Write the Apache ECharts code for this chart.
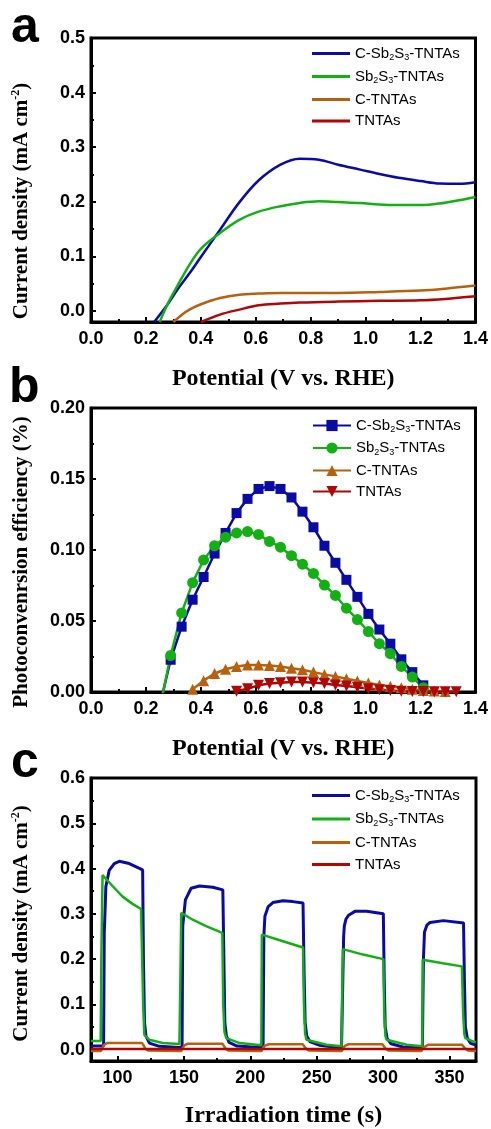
<!DOCTYPE html>
<html><head><meta charset="utf-8">
<script src="https://cdn.jsdelivr.net/npm/echarts@6/dist/echarts.min.js"></script>
<style>html,body{margin:0;padding:0;background:#fff}#chart{width:491px;height:1129px}</style>
</head><body><div id="chart"></div>
<script>
// ---------- names ----------
const seriesNames = ['C-Sb2S3-TNTAs', 'Sb2S3-TNTAs', 'C-TNTAs', 'TNTAs'];
const legendRich = {
  'C-Sb2S3-TNTAs': '{n|C-Sb}{b|2}{n|S}{b|3}{n|-TNTAs}',
  'Sb2S3-TNTAs': '{n|Sb}{b|2}{n|S}{b|3}{n|-TNTAs}',
  'C-TNTAs': '{n|C-TNTAs}',
  'TNTAs': '{n|TNTAs}'
};
const panelLetters = ['a', 'b', 'c'];

// ---------- panel a : J-V curves ----------
const aBlueX  = [0.23, 0.28, 0.32, 0.36, 0.40, 0.47, 0.54, 0.61, 0.69, 0.76, 0.83, 0.90, 0.98, 1.05, 1.12, 1.20, 1.27, 1.34, 1.40];
const aBlueY  = [-0.02, 0.013, 0.043, 0.070, 0.099, 0.149, 0.199, 0.239, 0.268, 0.279, 0.277, 0.268, 0.259, 0.251, 0.244, 0.238, 0.2335, 0.233, 0.236];
const aGreenX = [0.25, 0.28, 0.32, 0.36, 0.40, 0.47, 0.54, 0.61, 0.69, 0.76, 0.83, 0.90, 0.98, 1.05, 1.12, 1.20, 1.27, 1.34, 1.40];
const aGreenY = [-0.02, 0.014, 0.051, 0.086, 0.114, 0.143, 0.167, 0.182, 0.192, 0.198, 0.201, 0.1995, 0.198, 0.195, 0.194, 0.194, 0.197, 0.203, 0.209];
const aBrownX = [0.30, 0.33, 0.36, 0.40, 0.47, 0.54, 0.61, 0.69, 0.76, 0.90, 1.05, 1.20, 1.29, 1.40];
const aBrownY = [-0.02, -0.007, 0.003, 0.0125, 0.024, 0.030, 0.032, 0.033, 0.0333, 0.0333, 0.035, 0.0375, 0.041, 0.0467];
const aRedX   = [0.40, 0.47, 0.54, 0.61, 0.69, 0.76, 0.90, 1.05, 1.20, 1.29, 1.40];
const aRedY   = [-0.02, -0.0064, 0.0027, 0.0106, 0.0137, 0.0156, 0.0174, 0.0187, 0.0198, 0.0223, 0.0271];
const aXMajor = [0.0, 0.2, 0.4, 0.6, 0.8, 1.0, 1.2, 1.4];
const aXMinor = [0.1, 0.3, 0.5, 0.7, 0.9, 1.1, 1.3];
const aYMajor = [0.0, 0.1, 0.2, 0.3, 0.4, 0.5];
const aYMinor = [0.05, 0.15, 0.25, 0.35, 0.45];

// ---------- panel b : photoconversion efficiency ----------
const bBlueX  = [0.25, 0.29, 0.33, 0.37, 0.41, 0.45, 0.49, 0.53, 0.57, 0.61, 0.65, 0.69, 0.73, 0.77, 0.81, 0.85, 0.89, 0.93, 0.97, 1.01, 1.05, 1.09, 1.13, 1.17, 1.21, 1.25];
const bBlueY  = [-0.01, 0.0227, 0.046, 0.065, 0.081, 0.0975, 0.112, 0.126, 0.136, 0.143, 0.145, 0.143, 0.137, 0.127, 0.116, 0.103, 0.091, 0.079, 0.067, 0.055, 0.044, 0.034, 0.023, 0.014, 0.0047, -0.008];
const bGreenX = [0.25, 0.29, 0.33, 0.37, 0.41, 0.45, 0.49, 0.53, 0.57, 0.61, 0.65, 0.69, 0.73, 0.77, 0.81, 0.85, 0.89, 0.93, 0.97, 1.01, 1.05, 1.09, 1.13, 1.17, 1.21, 1.25];
const bGreenY = [-0.012, 0.0257, 0.0557, 0.077, 0.093, 0.103, 0.109, 0.112, 0.113, 0.111, 0.106, 0.102, 0.096, 0.090, 0.0835, 0.0753, 0.068, 0.059, 0.051, 0.0426, 0.034, 0.027, 0.018, 0.0105, 0.003, -0.006];
const bBrownX = [0.33, 0.37, 0.41, 0.45, 0.49, 0.53, 0.57, 0.61, 0.65, 0.69, 0.73, 0.77, 0.81, 0.85, 0.89, 0.93, 0.97, 1.01, 1.05, 1.09, 1.13, 1.17, 1.21, 1.25, 1.29];
const bBrownY = [-0.012, 0.002, 0.008, 0.013, 0.016, 0.018, 0.019, 0.019, 0.0187, 0.018, 0.0168, 0.0157, 0.014, 0.0124, 0.011, 0.0094, 0.0077, 0.0063, 0.0049, 0.004, 0.003, 0.002, 0.001, 0.0007, 0.0003];
const bRedX   = [0.49, 0.53, 0.57, 0.61, 0.65, 0.69, 0.73, 0.77, 0.81, 0.85, 0.89, 0.93, 0.97, 1.01, 1.05, 1.09, 1.13, 1.17, 1.21, 1.25, 1.29, 1.33];
const bRedY   = [-0.008, 0.0005, 0.0023, 0.0047, 0.006, 0.0065, 0.007, 0.007, 0.0066, 0.006, 0.005, 0.0042, 0.0033, 0.0023, 0.0016, 0.001, 0.0006, 0.0004, 0.0003, 0.0002, 0.0001, 0.0001];
const bXMajor = [0.0, 0.2, 0.4, 0.6, 0.8, 1.0, 1.2, 1.4];
const bXMinor = [0.1, 0.3, 0.5, 0.7, 0.9, 1.1, 1.3];
const bYMajor = [0.00, 0.05, 0.10, 0.15, 0.20];
const bYMinor = [0.025, 0.075, 0.125, 0.175];

// ---------- panel c : chopped-light transients ----------
const cBlueT = [80, 89.5, 90, 91.2, 93.7, 97.5, 101.3, 108.8, 118.9, 119.5, 120.3, 121.4, 124, 131.5, 146.6,
  148.6, 149.1, 151.1, 155.4, 161.7, 171.8, 179.3, 180.1, 180.8, 182, 184, 190, 207,
  209.6, 210.2, 211, 213.5, 217, 224.6, 232, 239.7, 240.5, 241.3, 242.5, 244.8, 252.3, 268.7,
  269.8, 270.3, 270.8, 272, 274, 278.8, 287.6, 300.2, 300.9, 301.6, 303, 306, 315, 329.6,
  330.4, 331.2, 333, 335.4, 345.5, 360.6, 361.3, 362, 363.5, 366, 370];
const cBlueV = [0.008, 0.008, 0.258, 0.36, 0.396, 0.411, 0.416, 0.411, 0.397, 0.2, 0.06, 0.03, 0.0146, 0.0074, 0.005,
  0.006, 0.273, 0.331, 0.3565, 0.3615, 0.3587, 0.353, 0.2, 0.06, 0.03, 0.016, 0.008, 0.005,
  0.006, 0.251, 0.2946, 0.316, 0.325, 0.329, 0.327, 0.324, 0.171, 0.06, 0.03, 0.018, 0.0096, 0.0037,
  0.005, 0.25, 0.273, 0.288, 0.297, 0.3055, 0.3055, 0.300, 0.15, 0.05, 0.025, 0.013, 0.006, 0.004,
  0.2, 0.26, 0.275, 0.281, 0.285, 0.280, 0.15, 0.05, 0.025, 0.014, 0.01];
const cGreenT = [80, 87.3, 87.8, 88.7, 96.2, 103.8, 111.3, 117.7, 118.6, 119.3, 120.2, 124, 134, 146.6,
  147.6, 148, 156.6, 166.7, 178.9, 179.6, 180.5, 181.9, 192, 208.3,
  208.7, 224, 239.7, 240.4, 241.3, 242.3, 257.4, 268.7,
  269.3, 269.7, 285, 300.2, 300.9, 301.8, 302.7, 317.8, 329.5,
  329.9, 345, 359.4, 360.3, 361.2, 362, 368, 370];
const cGreenV = [0.019, 0.019, 0.2, 0.3855, 0.3615, 0.338, 0.322, 0.3107, 0.31, 0.1, 0.0327, 0.0218, 0.0146, 0.0124,
  0.013, 0.302, 0.287, 0.273, 0.258, 0.1, 0.04, 0.0255, 0.0146, 0.0096,
  0.254, 0.240, 0.2256, 0.1, 0.035, 0.0218, 0.011, 0.0074,
  0.008, 0.222, 0.21, 0.200, 0.08, 0.03, 0.0218, 0.011, 0.0074,
  0.1986, 0.191, 0.184, 0.08, 0.035, 0.0255, 0.018, 0.016];
const cBrownT = [80, 87.5, 88.5, 90, 92, 118.5, 119.5, 121, 123, 148, 149, 150.5, 153, 179, 180, 181.5, 183.5,
  208.5, 209.5, 211, 214, 239.5, 240.5, 242, 244, 269, 270, 271.5, 274, 299.5, 300.5, 302, 304,
  329, 330, 331.5, 334, 359.5, 360.5, 362, 364, 370];
const cBrownV = [-0.003, -0.003, 0.004, 0.011, 0.0146, 0.0146, 0.010, 0.002, -0.002, -0.003, 0.004, 0.010, 0.0131, 0.0131, 0.009, 0.002, -0.002,
  -0.003, 0.004, 0.009, 0.012, 0.012, 0.008, 0.002, -0.002, -0.003, 0.004, 0.009, 0.012, 0.012, 0.008, 0.002, -0.002,
  -0.003, 0.004, 0.008, 0.011, 0.011, 0.007, 0.002, -0.002, -0.003];
const cRedT = [80, 370];
const cRedV = [0.0015, 0.0015];
const cXMajor = [100, 150, 200, 250, 300, 350];
const cXMinor = [125, 175, 225, 275, 325];
const cYMajor = [0.0, 0.1, 0.2, 0.3, 0.4, 0.5, 0.6];
const cYMinor = [0.05, 0.15, 0.25, 0.35, 0.45, 0.55];

// ---------- styling ----------
const colors = ['#0a0aa5', '#12b012', '#b8600e', '#b00606'];
const SANS = 'Liberation Sans';
const SERIF = 'Liberation Serif';
const zip = (xs, ys) => xs.map((x, i) => [x, ys[i]]);

const tickLabelStyle = { fontFamily: SANS, fontWeight: 'bold', fontSize: 18, color: '#000' };

function axisPair(dim, grid, min, max, major, minor, fmt, name, nameCfg) {
  const pos = dim === 'x' ? 'bottom' : 'left';
  const main = {
    type: 'value', gridIndex: grid, min: min, max: max, position: pos,
    axisLine: { show: true, onZero: false, lineStyle: { color: '#000', width: 3 } },
    axisTick: { show: true, inside: true, length: 5, lineStyle: { color: '#000', width: 2 }, customValues: major },
    axisLabel: Object.assign({ show: true, margin: dim === 'x' ? 8 : 6, customValues: major, formatter: fmt }, tickLabelStyle),
    splitLine: { show: false },
    name: name, nameLocation: 'middle'
  };
  Object.assign(main, nameCfg);
  const sub = {
    type: 'value', gridIndex: grid, min: min, max: max, position: pos,
    axisLine: { show: false, onZero: false },
    axisTick: { show: true, inside: true, length: 3, lineStyle: { color: '#000', width: 2 }, customValues: minor },
    axisLabel: { show: false },
    splitLine: { show: false }
  };
  return [main, sub];
}

const xNameStyle = { fontFamily: SERIF, fontWeight: 'bold', fontSize: 24, color: '#000' };
function yNameStyle(shift) {
  return {
    fontFamily: SERIF, fontWeight: 'bold', fontSize: 21, color: '#000',
    padding: [0, shift * 2, 0, 0],
    rich: {
      t: { fontFamily: SERIF, fontWeight: 'bold', fontSize: 21, lineHeight: 24, color: '#000' },
      s: { fontFamily: SERIF, fontWeight: 'bold', fontSize: 12, lineHeight: 5, verticalAlign: 'top', color: '#000' }
    }
  };
}

const f1 = v => v.toFixed(1);
const f2 = v => v.toFixed(2);
const f0 = v => String(Math.round(v));

const xAxes = [].concat(
  axisPair('x', 0, 0, 1.4, aXMajor, aXMinor, f1, 'Potential (V vs. RHE)', { nameGap: 45, nameTextStyle: xNameStyle }),
  axisPair('x', 1, 0, 1.4, bXMajor, bXMinor, f1, 'Potential (V vs. RHE)', { nameGap: 45, nameTextStyle: xNameStyle }),
  axisPair('x', 2, 80, 370, cXMajor, cXMinor, f0, 'Irradiation time (s)', { nameGap: 43, nameTextStyle: xNameStyle })
);
const yAxes = [].concat(
  axisPair('y', 0, -0.02, 0.5, aYMajor, aYMinor, f1, '{t|Current density (mA cm}{s|-2}{t|)}', { nameGap: 57, nameTextStyle: yNameStyle(21) }),
  axisPair('y', 1, 0, 0.2, bYMajor, bYMinor, f2, '{t|Photoconvenrsion efficiency (%)}', { nameGap: 57, nameTextStyle: yNameStyle(12) }),
  axisPair('y', 2, -0.025, 0.6, cYMajor, cYMinor, f1, '{t|Current density (mA cm}{s|-2}{t|)}', { nameGap: 57, nameTextStyle: yNameStyle(4) })
);

function lineSeries(panel, k, data, axisIdx, extra) {
  return Object.assign({
    name: panel + ':' + seriesNames[k],
    type: 'line', xAxisIndex: axisIdx, yAxisIndex: axisIdx,
    data: data, symbol: 'none', clip: true,
    color: colors[k],
    lineStyle: { color: colors[k], width: 2.5 },
    itemStyle: { color: colors[k] },
    emphasis: { disabled: true }
  }, extra || {});
}

const series = [
  lineSeries('a', 0, zip(aBlueX, aBlueY), 0, { smooth: 0.35 }),
  lineSeries('a', 1, zip(aGreenX, aGreenY), 0, { smooth: 0.35 }),
  lineSeries('a', 2, zip(aBrownX, aBrownY), 0, { smooth: 0.35 }),
  lineSeries('a', 3, zip(aRedX, aRedY), 0, { smooth: 0.35 }),

  lineSeries('b', 0, zip(bBlueX, bBlueY), 2, { symbol: 'rect', symbolSize: 10, showSymbol: true }),
  lineSeries('b', 1, zip(bGreenX, bGreenY), 2, { symbol: 'circle', symbolSize: 11, showSymbol: true }),
  lineSeries('b', 2, zip(bBrownX, bBrownY), 2, { symbol: 'triangle', symbolSize: 11, showSymbol: true }),
  lineSeries('b', 3, zip(bRedX, bRedY), 2, { symbol: 'triangle', symbolRotate: 180, symbolSize: 11, showSymbol: true }),

  lineSeries('c', 0, zip(cBlueT, cBlueV), 4, { lineStyle: { color: colors[0], width: 3 } }),
  lineSeries('c', 1, zip(cGreenT, cGreenV), 4, { lineStyle: { color: colors[1], width: 2.5 } }),
  lineSeries('c', 2, zip(cBrownT, cBrownV), 4, { lineStyle: { color: colors[2], width: 2.5 } }),
  lineSeries('c', 3, zip(cRedT, cRedV), 4, { lineStyle: { color: colors[3], width: 2.5 } })
];

function legendFor(panel, top, gap, itemH, icon) {
  const lg = {
    orient: 'vertical', left: 312, top: top, padding: 0,
    itemWidth: 38, itemHeight: itemH, itemGap: gap,
    selectedMode: false,
    data: seriesNames.map(n => panel + ':' + n),
    formatter: n => legendRich[n.split(':')[1]],
    textStyle: {
      fontFamily: SANS, fontSize: 15, color: '#000',
      rich: {
        n: { fontFamily: SANS, fontSize: 15, lineHeight: 18, color: '#000' },
        b: { fontFamily: SANS, fontSize: 9, lineHeight: 4, verticalAlign: 'bottom', color: '#000' }
      }
    }
  };
  if (icon) lg.icon = icon;
  return lg;
}

const option = {
  animation: false,
  backgroundColor: '#fff',
  title: panelLetters.map((L, i) => ({
    text: L, left: [11, 9, 11][i], top: [3, 363, 738][i], padding: 0,
    textStyle: { fontFamily: SANS, fontWeight: 'bold', fontSize: 50, color: '#000', lineHeight: 50 }
  })),
  grid: [
    { left: 91, top: 38, width: 385, height: 284, show: true, borderColor: '#000', borderWidth: 3, backgroundColor: 'transparent' },
    { left: 91, top: 408, width: 385, height: 284, show: true, borderColor: '#000', borderWidth: 3, backgroundColor: 'transparent' },
    { left: 91, top: 778, width: 385, height: 285, show: true, borderColor: '#000', borderWidth: 3, backgroundColor: 'transparent' }
  ],
  legend: [legendFor('a', 46, 6.5, 3, 'rect'), legendFor('b', 418, 6, 14), legendFor('c', 788, 7, 3, 'rect')],
  xAxis: xAxes,
  yAxis: yAxes,
  series: series
};

const chart = echarts.init(document.getElementById('chart'), null, { renderer: 'canvas' });
chart.setOption(option);
</script>
</body></html>
